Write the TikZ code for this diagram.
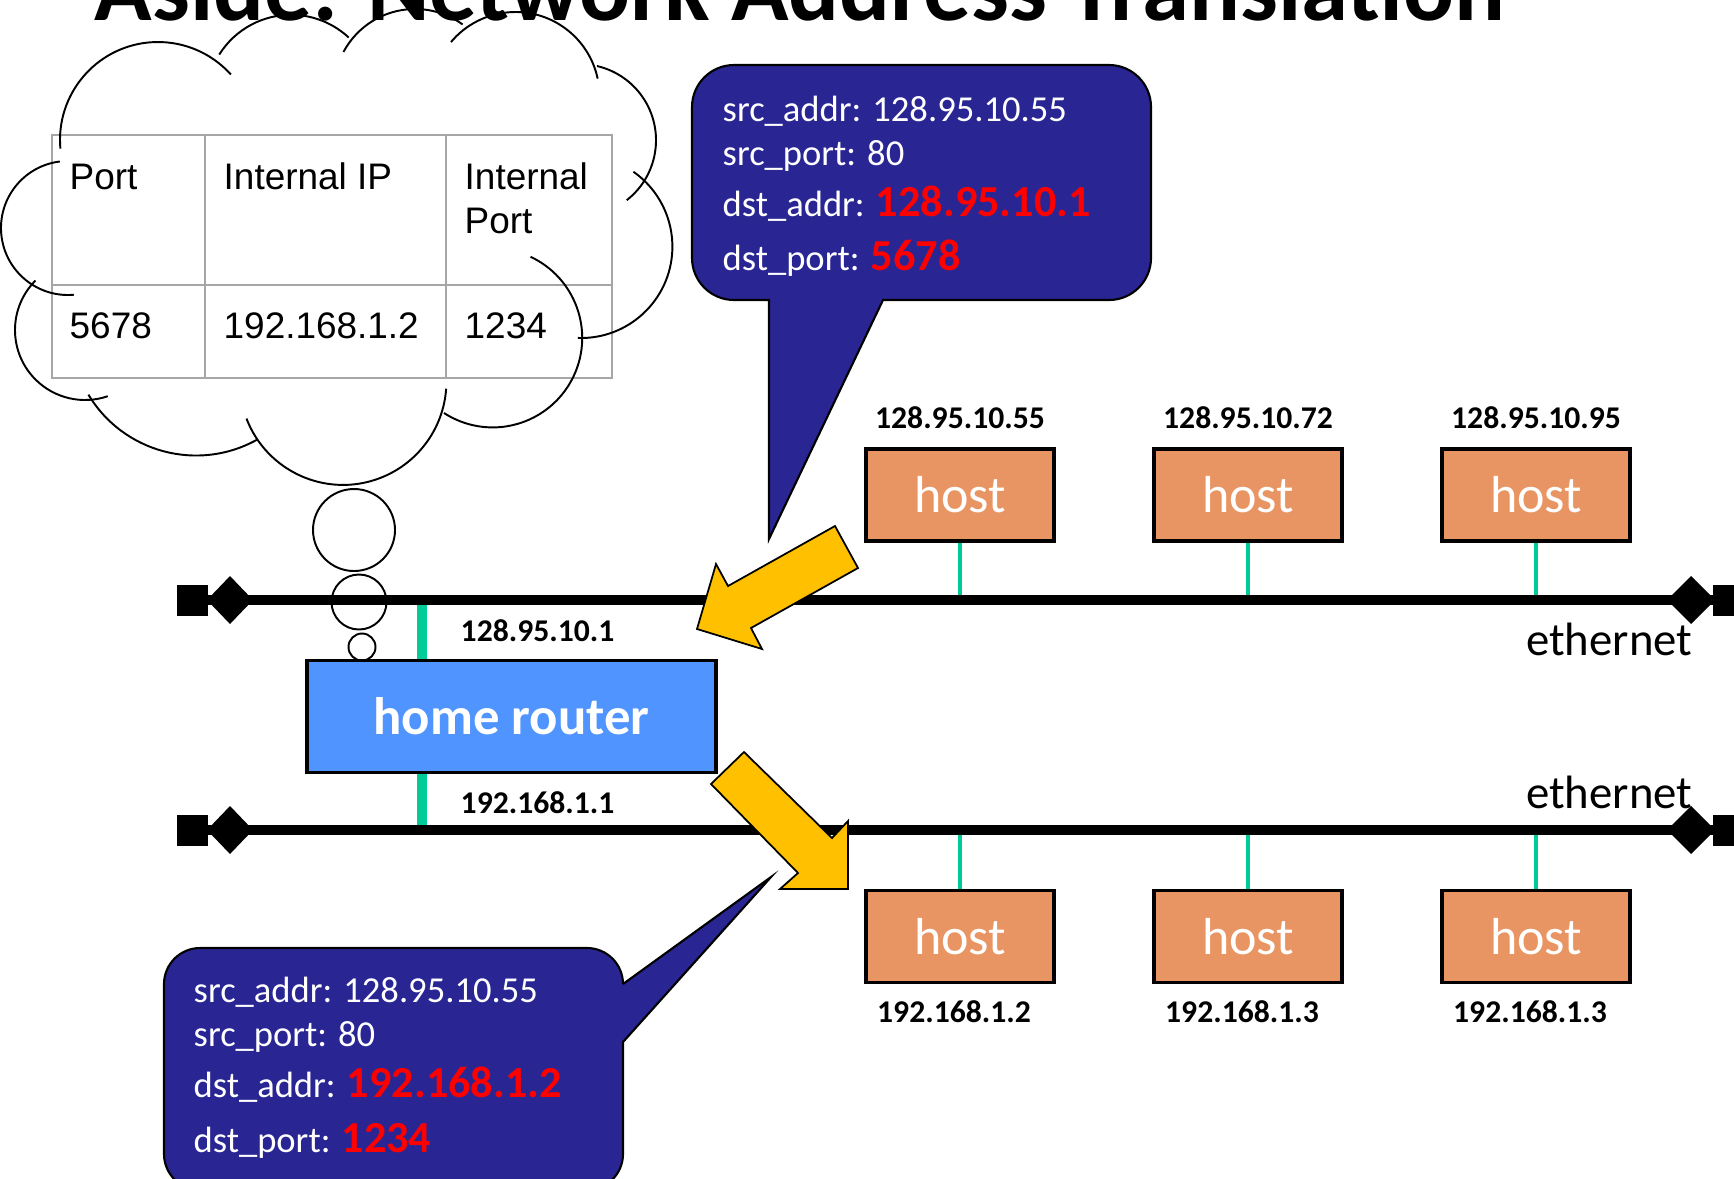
\documentclass[tikz,border=0pt]{standalone}
\usepackage{fontspec}
\setmainfont{Carlito}
\newfontfamily\arialfont{Liberation Sans}
\usetikzlibrary{calc}

\definecolor{packetblue}{RGB}{41,38,148}
\definecolor{hostorange}{RGB}{233,149,99}
\definecolor{routerblue}{RGB}{79,148,255}
\definecolor{linkgreen}{RGB}{0,204,153}
\definecolor{arrowyellow}{RGB}{255,192,0}
\definecolor{tablegray}{RGB}{166,166,166}

\begin{document}
\begin{tikzpicture}[x=0.01cm, y=-0.01cm,
  cloudline/.style={draw=black, line width=0.55pt},
  tablegrid/.style={draw=tablegray, line width=0.7pt},
  tabletext/.style={inner sep=0pt, anchor=base west, font=\arialfont\fontsize{10.5}{12.6}\selectfont},
  busline/.style={line width=2.85pt},
  busend/.style={fill=black},
  hostlink/.style={draw=linkgreen, line width=1.4pt},
  routerlink/.style={draw=linkgreen, line width=2.7pt},
  hostbox/.style={draw=black, line width=1.1pt, fill=hostorange, text=white, minimum width=1.88cm, minimum height=0.92cm, inner sep=0pt, font=\fontsize{14.8}{17}\selectfont},
  routerbox/.style={draw=black, line width=1.1pt, fill=routerblue, text=white, minimum width=4.08cm, minimum height=1.12cm, inner sep=0pt, font=\bfseries\fontsize{15}{18}\selectfont},
  iplabel/.style={inner sep=0pt, font=\bfseries\fontsize{9}{11}\selectfont},
  ethlabel/.style={inner sep=0pt, anchor=base east, font=\fontsize{13.3}{16}\selectfont},
  packetbox/.style={fill=packetblue, draw=black, line width=0.6pt},
  packettext/.style={inner sep=0pt, anchor=base west, text=white, font=\fontsize{10.4}{12.5}\selectfont},
  bigarrow/.style={fill=arrowyellow, draw=black, line width=0.5pt, line join=miter}]
\useasboundingbox (0,0) rectangle (1734,1178);
\clip (0,0) rectangle (1734,1178);

% Title (cut off at the top)
\node[anchor=base west, inner sep=0pt, font=\bfseries\fontsize{27}{32}\selectfont] (title) at (94,20) {Aside: Network Address Translation};

% NAT table
\draw[tablegrid] (52,135) rectangle (612,378);
\draw[tablegrid] (205,135) -- (205,378) (446,135) -- (446,378) (52,285) -- (612,285);
\node[tabletext] (tPort) at (69,189) {Port};
\node[tabletext] (tIntIP) at (223,189) {Internal IP};
\node[tabletext] (tIntPortA) at (464,189) {Internal};
\node[tabletext] (tIntPortB) at (464,233) {Port};
\node[tabletext] (vPort) at (69,338) {5678};
\node[tabletext] (vIntIP) at (223,338) {192.168.1.2};
\node[tabletext] (vIntPort) at (464,338) {1234};

% Thought cloud
\draw[cloudline] (158,140) ++(175:98) arc[start angle=175, end angle=318, radius=98];
\draw[cloudline] (68,228) ++(263:67) arc[start angle=263, end angle=85, radius=67];
\draw[cloudline] (85,330) ++(225:70) arc[start angle=225, end angle=71, radius=70];
\draw[cloudline] (196,330) ++(149:125.5) arc[start angle=149, end angle=61, radius=125.5];
\draw[cloudline] (343,381.5) ++(159:103.4) arc[start angle=159, end angle=4, radius=103.4];
\draw[cloudline] (492.7,337.9) ++(295:89.5) arc[start angle=295, end angle=483, radius=89.5];
\draw[cloudline] (581,246.6) ++(92:91.4) arc[start angle=92, end angle=-55, radius=91.4];
\draw[cloudline] (579.9,140.2) ++(52:76.1) arc[start angle=52, end angle=-77, radius=76.1];
\draw[cloudline] (515.4,96.1) ++(220:84.1) arc[start angle=220, end angle=348, radius=84.1];
\draw[cloudline] (415,90) ++(208:81) arc[start angle=208, end angle=306, radius=81];
\draw[cloudline] (291,99.4) ++(212:84.6) arc[start angle=212, end angle=313, radius=84.6];

% Thought bubbles
\draw[cloudline] (354,530) circle[radius=41];
\draw[cloudline] (359,602) circle[radius=27.5];
\draw[cloudline] (362,647) circle[radius=13.5];

% Bus coordinates
\coordinate (wanL) at (200,600);
\coordinate (wanR) at (1720,600);
\coordinate (lanL) at (200,830);
\coordinate (lanR) at (1720,830);
\coordinate (wanR0) at (422,600);
\coordinate (lanR0) at (422,830);

% Router and hosts
\node[routerbox] (router) at (511.5,716.5) {home router};
\node[hostbox] (h1) at (960,495) {host};
\node[hostbox] (h2) at (1248,495) {host};
\node[hostbox] (h3) at (1536,495) {host};
\node[hostbox] (h4) at (960,936.5) {host};
\node[hostbox] (h5) at (1248,936.5) {host};
\node[hostbox] (h6) at (1536,936.5) {host};

% Drops to the ethernet
\draw[routerlink] (wanR0) -- (wanR0 |- router.north);
\draw[routerlink] (router.south -| lanR0) -- (lanR0);
\draw[hostlink] (h1.south) -- (h1.south |- wanL);
\draw[hostlink] (h2.south) -- (h2.south |- wanL);
\draw[hostlink] (h3.south) -- (h3.south |- wanL);
\draw[hostlink] (h4.north) -- (h4.north |- lanL);
\draw[hostlink] (h5.north) -- (h5.north |- lanL);
\draw[hostlink] (h6.north) -- (h6.north |- lanL);

% Upper ethernet
\draw[busline] (wanL) -- (wanR);
\fill[busend] (177,585) rectangle (208,616);
\fill[busend] (207,600) -- (230,576) -- (253,600) -- (230,624) -- cycle;
\fill[busend] (1713,585) rectangle (1744,616);
\fill[busend] (1667,600) -- (1691,576) -- (1715,600) -- (1691,624) -- cycle;
\node[ethlabel] (wanlabel) at (1693,655) {ethernet};

% Lower ethernet
\draw[busline] (lanL) -- (lanR);
\fill[busend] (177,815) rectangle (208,846);
\fill[busend] (207,830) -- (230,806) -- (253,830) -- (230,854) -- cycle;
\fill[busend] (1713,815) rectangle (1744,846);
\fill[busend] (1667,830) -- (1691,806) -- (1715,830) -- (1691,854) -- cycle;
\node[ethlabel] (lanlabel) at (1693,808) {ethernet};

% Addresses
\node[iplabel, anchor=base west] (wanip) at (460,641) {128.95.10.1};
\node[iplabel, anchor=base west] (lanip) at (460,813) {192.168.1.1};
\node[iplabel, anchor=base] (ip1) at (960,428) {128.95.10.55};
\node[iplabel, anchor=base] (ip2) at (1248,428) {128.95.10.72};
\node[iplabel, anchor=base] (ip3) at (1536,428) {128.95.10.95};
\node[iplabel, anchor=base] (ip4) at (954,1022) {192.168.1.2};
\node[iplabel, anchor=base] (ip5) at (1242,1022) {192.168.1.3};
\node[iplabel, anchor=base] (ip6) at (1530,1022) {192.168.1.3};

% Packet after translation (outside)
\draw[packetbox] (883,300) [rounded corners=0.42cm] -- (1151,300) -- (1151,65) -- (692,65) -- (692,300) [sharp corners] -- (769,300) -- (769,539) -- cycle;
\node[packettext] (wanA) at (722,121) {src\_addr: 128.95.10.55};
\node[packettext] (wanB) at (722,165) {src\_port: 80};
\node[packettext] (wanC) at (722,216) {dst\_addr: {\color{red}\bfseries\fontsize{12.6}{15}\selectfont 128.95.10.1}};
\node[packettext] (wanD) at (722,270) {dst\_port: {\color{red}\bfseries\fontsize{12.6}{15}\selectfont 5678}};

% Packet after translation (inside)
\draw[packetbox] (623,1042) [rounded corners=0.36cm] -- (623,1190) -- (164,1190) -- (164,948) -- (623,948) [sharp corners] -- (623,984) -- (771,877) -- cycle;
\node[packettext] (lanA) at (193,1002) {src\_addr: 128.95.10.55};
\node[packettext] (lanB) at (193,1046) {src\_port: 80};
\node[packettext] (lanC) at (193,1097) {dst\_addr: {\color{red}\bfseries\fontsize{12.6}{15}\selectfont 192.168.1.2}};
\node[packettext] (lanD) at (193,1152) {dst\_port: {\color{red}\bfseries\fontsize{12.6}{15}\selectfont 1234}};

% Yellow arrows
\draw[bigarrow] (835,526) -- (858,568) -- (751,628) -- (762,649) -- (697,629) -- (716,564) -- (728,586) -- cycle;
\draw[bigarrow] (744,752) -- (832,838) -- (848,821) -- (848,889) -- (780,889) -- (798,873) -- (711,784) -- cycle;

\end{tikzpicture}
\end{document}
